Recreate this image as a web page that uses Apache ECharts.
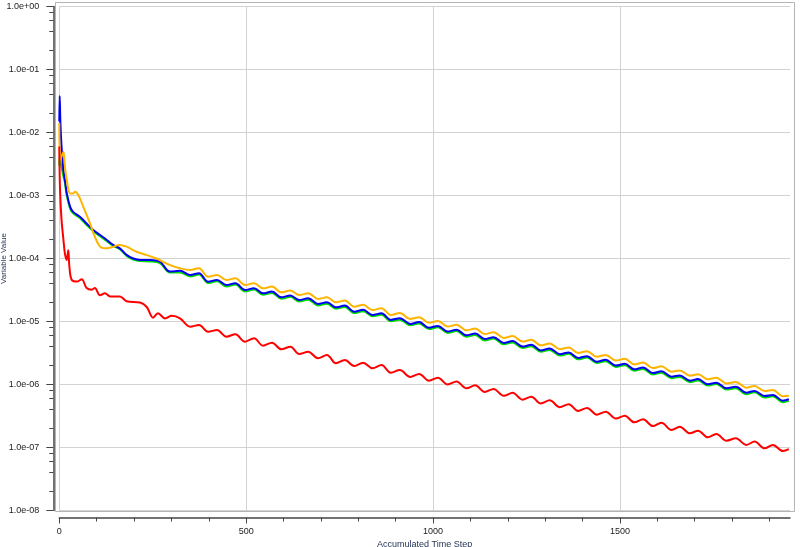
<!DOCTYPE html>
<html><head><meta charset="utf-8">
<script src="https://cdn.jsdelivr.net/npm/echarts@6/dist/echarts.min.js"></script>
<style>html,body{margin:0;padding:0;background:#fff}#c{width:800px;height:547px}</style>
</head><body><div id="c"></div>
<script>
// ---- data ----
const xMajorTicks = [0, 500, 1000, 1500];
const xMinorTicks = [100,200,300,400,600,700,800,900,1100,1200,1300,1400,1600,1700,1800,1900];
const yMinorMultiples = [2, 4, 6, 8];

const tailSteps = [350,374,398,422,447,471,497,521,545,569,594,618,642,666,692,716,740,764,789,813,838,862,887,911,
  939,963,989,1013,1039,1063,1089,1113,1138,1162,1189,1213,1239,1263,1288,1312,1339,1363,1388,1412,1438,1462,1489,1513,
  1538,1562,1588,1611,1638,1660,1687,1709,1735,1758,1785,1810,1838,1860,1887,1909,1936,1952];

const redEarlySteps = [0,2,6,11,15,20,24,27,33,47,60,73,87,95,109,122,136,162,180,216,234,251,264,283,301,323];
const redEarlyValues = [6e-3,1.2e-3,4.1e-4,2.0e-4,1.2e-4,9.5e-5,1.35e-4,7.5e-5,4.6e-5,4.3e-5,4.7e-5,3.4e-5,3.2e-5,3.4e-5,2.6e-5,2.8e-5,2.5e-5,2.5e-5,2.1e-5,2.0e-5,1.7e-5,1.15e-5,1.35e-5,1.12e-5,1.23e-5,1.12e-5];
const redTailValues = [8.26e-6,8.8e-6,6.89e-6,7.33e-6,5.74e-6,6.26e-6,4.78e-6,5.41e-6,4.13e-6,4.61e-6,3.62e-6,3.98e-6,3.05e-6,3.32e-6,2.61e-6,2.94e-6,2.17e-6,2.45e-6,1.97e-6,2.22e-6,1.81e-6,2.04e-6,1.54e-6,1.7e-6,
  1.32e-6,1.47e-6,1.15e-6,1.28e-6,1.0e-6,1.12e-6,8.7e-7,9.7e-7,7.6e-7,8.5e-7,
  6.6e-7,7.4e-7,5.75e-7,6.4e-7,5.0e-7,5.6e-7,4.36e-7,4.87e-7,3.81e-7,4.25e-7,
  3.32e-7,3.7e-7,2.88e-7,3.2e-7,2.51e-7,2.8e-7,2.19e-7,2.48e-7,1.9e-7,2.14e-7,
  1.68e-7,1.85e-7,1.45e-7,1.64e-7,1.28e-7,1.4e-7,1.1e-7,1.24e-7,9.7e-8,1.1e-7,
  8.8e-8,9.4e-8];

const blueEarlySteps = [0,1,3,6,9,11,15,20,29,37,55,73,91,109,127,144,162,180,198,216,243,270,296,323];
const blueEarlyValues = [1.5e-2,3.8e-2,1.4e-2,6e-3,3.7e-3,2.5e-3,1.76e-3,1.08e-3,6.6e-4,5.5e-4,4.6e-4,3.6e-4,2.83e-4,2.36e-4,1.97e-4,1.64e-4,1.45e-4,1.14e-4,1.0e-4,9.5e-5,9.5e-5,8.8e-5,6.2e-5,6.4e-5];
const blueTailValues = [5.47e-5,5.85e-5,4.28e-5,4.57e-5,3.79e-5,4.06e-5,3.16e-5,3.38e-5,2.8e-5,2.99e-5,2.42e-5,2.59e-5,2.19e-5,2.34e-5,1.9e-5,2.02e-5,1.68e-5,1.79e-5,1.43e-5,1.53e-5,1.27e-5,1.35e-5,1.06e-5,1.13e-5,
  9.16e-6,9.78e-6,7.97e-6,8.51e-6,6.94e-6,7.41e-6,6.04e-6,6.45e-6,5.27e-6,5.63e-6,
  4.57e-6,4.89e-6,4.0e-6,4.27e-6,3.48e-6,3.72e-6,3.03e-6,3.23e-6,2.64e-6,2.82e-6,
  2.3e-6,2.46e-6,2.0e-6,2.13e-6,1.74e-6,1.86e-6,1.52e-6,1.62e-6,1.33e-6,1.39e-6,
  1.15e-6,1.22e-6,1.01e-6,1.07e-6,8.7e-7,9.2e-7,7.41e-7,7.91e-7,6.56e-7,6.81e-7,
  5.53e-7,5.82e-7];

const greenEarlySteps = [0,1,3,6,9,11,15,20,29,37,55,73,91,109,127,144,162,180,198,216,243,270,296,323];
const greenEarlyValues = [3.0e-3,4.5e-3,3.5e-3,2.8e-3,2.3e-3,2.0e-3,1.6e-3,1.0e-3,6.2e-4,5.2e-4,4.4e-4,3.4e-4,2.7e-4,2.25e-4,1.88e-4,1.58e-4,1.4e-4,1.1e-4,9.6e-5,9.1e-5,9.0e-5,8.4e-5,6.0e-5,6.0e-5];
const greenTailValues = [5.2e-5,5.56e-5,4.07e-5,4.34e-5,3.6e-5,3.86e-5,3.0e-5,3.21e-5,2.66e-5,2.84e-5,2.3e-5,2.46e-5,2.08e-5,2.22e-5,1.8e-5,1.92e-5,1.6e-5,1.7e-5,1.36e-5,1.45e-5,1.21e-5,1.28e-5,1.01e-5,1.07e-5,
  8.7e-6,9.29e-6,7.57e-6,8.08e-6,6.59e-6,7.04e-6,5.74e-6,6.13e-6,5.0e-6,5.35e-6,
  4.34e-6,4.65e-6,3.8e-6,4.06e-6,3.31e-6,3.53e-6,2.88e-6,3.07e-6,2.51e-6,2.68e-6,
  2.19e-6,2.34e-6,1.9e-6,2.02e-6,1.65e-6,1.77e-6,1.44e-6,1.54e-6,1.26e-6,1.32e-6,
  1.09e-6,1.16e-6,9.6e-7,1.02e-6,8.3e-7,8.7e-7,7.0e-7,7.5e-7,6.2e-7,6.5e-7,
  5.25e-7,5.5e-7];

const orangeEarlySteps = [0,2,6,11,15,20,29,37,42,51,64,82,95,109,122,140,162,180,207,233,260,295,323];
const orangeEarlyValues = [1.42e-2,3.66e-3,4.13e-3,4.96e-3,2.87e-3,1.76e-3,1.08e-3,1.08e-3,1.15e-3,1.02e-3,6.64e-4,3.62e-4,2.22e-4,1.54e-4,1.45e-4,1.51e-4,1.64e-4,1.54e-4,1.28e-4,1.14e-4,1.0e-4,7.9e-5,7.0e-5];
const orangeTailValues = [6.56e-5,7.02e-5,5.14e-5,5.48e-5,4.55e-5,4.87e-5,3.79e-5,4.06e-5,3.36e-5,3.59e-5,2.9e-5,3.11e-5,2.63e-5,2.81e-5,2.28e-5,2.42e-5,2.02e-5,2.15e-5,1.72e-5,1.84e-5,1.52e-5,1.62e-5,1.27e-5,1.36e-5,
  1.1e-5,1.17e-5,9.56e-6,1.02e-5,8.33e-6,8.89e-6,7.25e-6,7.74e-6,6.32e-6,6.76e-6,
  5.48e-6,5.87e-6,4.8e-6,5.12e-6,4.18e-6,4.46e-6,3.64e-6,3.88e-6,3.17e-6,3.38e-6,
  2.76e-6,2.95e-6,2.4e-6,2.56e-6,2.09e-6,2.23e-6,1.82e-6,1.94e-6,1.6e-6,1.67e-6,
  1.38e-6,1.46e-6,1.21e-6,1.28e-6,1.04e-6,1.1e-6,8.9e-7,9.5e-7,7.9e-7,8.2e-7,
  6.5e-7,6.6e-7];

// ---- build ----
function pairs(steps, vals) { return steps.map((s, i) => [s, vals[i]]); }
function build(es, ev, tv) { return pairs(es, ev).concat(pairs(tailSteps, tv)); }

const yMinorPos = [];
for (let d = -8; d < 0; d++) yMinorMultiples.forEach(m => yMinorPos.push(d + Math.log10(m)));

function fmtExp(v) {
  const e = Math.round(Math.log10(v));
  return '1.0e' + (e < 0 ? '-' : '+') + String(Math.abs(e)).padStart(2, '0');
}

const FONT = 'Liberation Sans';
const AXIS_COLOR = '#444';
const GRID_COLOR = '#d2d2d2';

const chart = echarts.init(document.getElementById('c'), null, {renderer: 'canvas'});
const lineBase = {type: 'line', showSymbol: false, smooth: 0.35, animation: false, z: 3};
chart.setOption({
  animation: false,
  backgroundColor: '#fff',
  grid: {left: 59.3, right: 10, top: 6.5, bottom: 36.5, containLabel: false, outerBoundsMode: 'none'},
  graphic: [{
    type: 'rect', silent: true, z: 0,
    shape: {x: 55.5, y: 2.5, width: 739, height: 509},
    style: {fill: 'none', stroke: '#b4b4b4', lineWidth: 1}
  }],
  xAxis: [{
    type: 'value', min: 0, max: 1955, position: 'bottom', offset: 7,
    name: 'Accumulated Time Step', nameLocation: 'middle', nameGap: 23, nameMoveOverlap: false,
    nameTextStyle: {fontFamily: FONT, fontSize: 9, color: '#1f2f4f'},
    axisLine: {show: true, onZero: false, lineStyle: {color: AXIS_COLOR, width: 1.5}},
    axisTick: {show: true, length: 6, customValues: xMajorTicks, lineStyle: {color: AXIS_COLOR}},
    axisLabel: {customValues: xMajorTicks, formatter: v => String(v), margin: 10, fontFamily: FONT, fontSize: 9, color: '#222'},
    splitLine: {show: true, lineStyle: {color: GRID_COLOR, width: 1}}
  }, {
    type: 'value', min: 0, max: 1955, position: 'bottom', offset: 7,
    axisLine: {show: false, onZero: false},
    axisTick: {show: true, length: 4, customValues: xMinorTicks, lineStyle: {color: AXIS_COLOR}},
    axisLabel: {show: false},
    splitLine: {show: false}
  }],
  yAxis: [{
    type: 'log', logBase: 10, min: 1e-8, max: 1, position: 'left', offset: 6,
    name: 'Variable Value', nameLocation: 'middle', nameGap: 46, nameRotate: 90, nameMoveOverlap: false,
    nameTextStyle: {fontFamily: FONT, fontSize: 8, color: '#1f2f4f'},
    axisLine: {show: true, onZero: false, lineStyle: {color: AXIS_COLOR, width: 1.5}},
    axisTick: {show: true, length: 7, lineStyle: {color: AXIS_COLOR}},
    axisLabel: {formatter: fmtExp, margin: 14, fontFamily: FONT, fontSize: 9, color: '#222'},
    splitLine: {show: true, lineStyle: {color: GRID_COLOR, width: 1}}
  }, {
    type: 'value', min: -8, max: 0, position: 'left', offset: 6,
    axisLine: {show: false, onZero: false},
    axisTick: {show: true, length: 4, customValues: yMinorPos, lineStyle: {color: AXIS_COLOR}},
    axisLabel: {show: false},
    splitLine: {show: false}
  }],
  series: [
    Object.assign({}, lineBase, {name: 'green', data: build(greenEarlySteps, greenEarlyValues, greenTailValues), lineStyle: {color: '#00e000', width: 2}, itemStyle: {color: '#00e000'}}),
    Object.assign({}, lineBase, {name: 'blue', data: build(blueEarlySteps, blueEarlyValues, blueTailValues), lineStyle: {color: '#0000f0', width: 2}, itemStyle: {color: '#0000f0'}}),
    Object.assign({}, lineBase, {name: 'orange', data: build(orangeEarlySteps, orangeEarlyValues, orangeTailValues), lineStyle: {color: '#ffb400', width: 2}, itemStyle: {color: '#ffb400'}}),
    Object.assign({}, lineBase, {name: 'red', data: build(redEarlySteps, redEarlyValues, redTailValues), lineStyle: {color: '#ff0000', width: 2}, itemStyle: {color: '#ff0000'}})
  ]
});
</script></body></html>
